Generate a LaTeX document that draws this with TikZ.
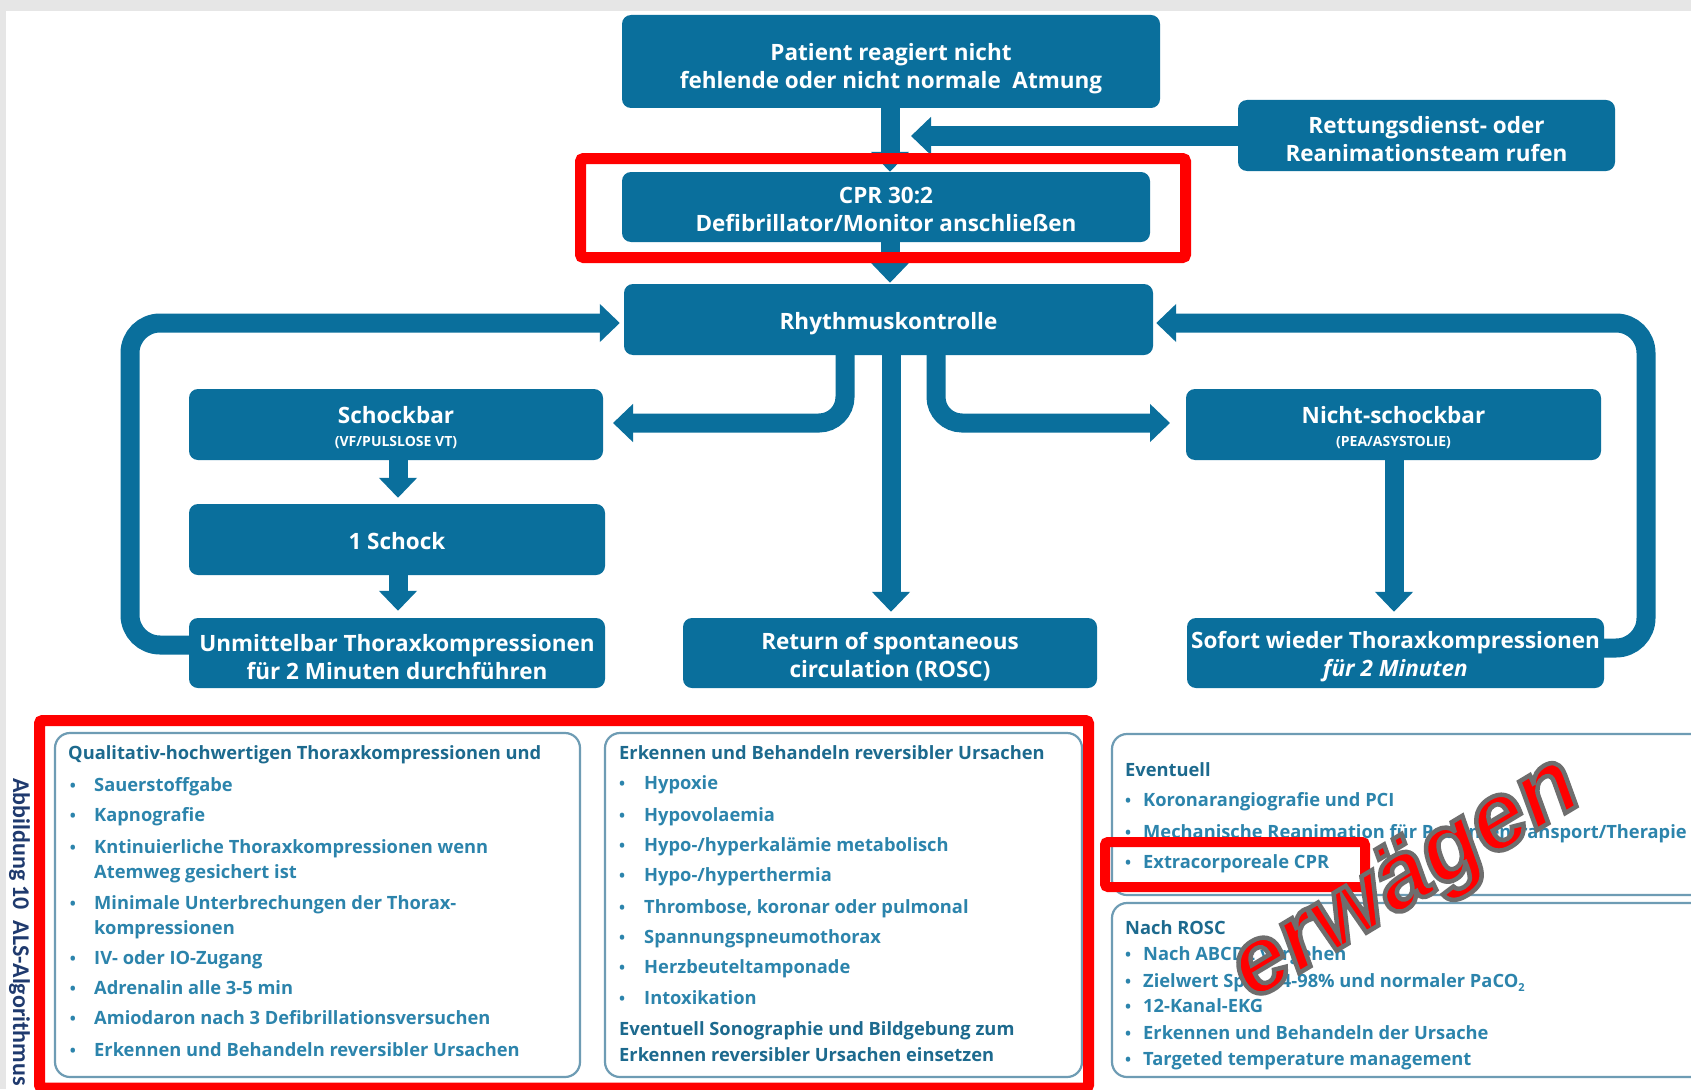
\documentclass[tikz,border=0pt]{standalone}
\usepackage{fontspec}
\setmainfont{Open Sans}
\newfontfamily\erwfont{Liberation Sans}
\newfontfamily\capfont{Carlito}
\usetikzlibrary{arrows.meta}
\definecolor{boxblue}{HTML}{0A6F9C}
\definecolor{headblue}{HTML}{1D6A8E}
\definecolor{itemblue}{HTML}{2C84AC}
\definecolor{framecol}{HTML}{6E9CB4}
\definecolor{bggrey}{HTML}{E6E6E6}
\definecolor{capblue}{HTML}{1F3A6E}
\definecolor{markred}{HTML}{FF0000}
\newcommand{\mysub}[1]{\raisebox{-0.45ex}{\fontsize{11}{11}\selectfont #1}}
\newcommand{\outlinedtext}[1]{\special{pdf:code q 2 Tr 4.5 w 0.43 0.43 0.43 RG}#1\special{pdf:code Q}}
\tikzset{
  flowbox/.style={fill=boxblue, rounded corners=9pt, inner sep=0pt},
  flowtext/.style={text=white, align=center, inner sep=0pt, font=\fontsize{22.5}{28}\selectfont\bfseries},
  arr/.style={draw=boxblue, line width=19pt, -{Triangle[width=37pt,length=20pt]}},
  loopline/.style={arr, rounded corners=30pt},
  branch/.style={arr, rounded corners=26pt},
  redmark/.style={draw=markred, line width=11pt, rounded corners=3pt},
  infobox/.style={draw=framecol, line width=2.2pt, rounded corners=15pt},
  headtxt/.style={anchor=base west, inner sep=0pt, text=headblue, font=\fontsize{18.3}{22}\selectfont\bfseries},
  itemtxt/.style={anchor=base west, inner sep=0pt, text=itemblue, font=\fontsize{18.3}{22}\selectfont\bfseries},
  bul/.style={anchor=base, inner sep=0pt, text=itemblue, font=\fontsize{16}{22}\selectfont\bfseries},
  erw/.style={anchor=base, inner sep=0pt, rotate=31, text=markred, font=\fontsize{96}{96}\selectfont\erwfont\bfseries\itshape}
}
\begin{document}
\begin{tikzpicture}[x=1pt,y=-1pt]
\useasboundingbox (0,0) rectangle (1691,1089);
\clip (0,0) rectangle (1691,1089);
\fill[white] (0,0) rectangle (1691,1089);
\fill[bggrey] (0,0) rectangle (1691,11);
\fill[bggrey] (0,0) rectangle (6,1089);

% flow boxes
\node[flowbox, minimum width=538pt, minimum height=93pt] (p) at (891,61.5) {};
\node[flowbox, minimum width=377pt, minimum height=71pt] (r) at (1426.5,135.5) {};
\node[flowbox, minimum width=528pt, minimum height=70pt] (c) at (886,207) {};
\node[flowbox, minimum width=529pt, minimum height=71pt] (rh) at (888.5,319.5) {};
\node[flowbox, minimum width=414pt, minimum height=71pt] (s) at (396,424.5) {};
\node[flowbox, minimum width=416pt, minimum height=71pt] (s1) at (397,539.5) {};
\node[flowbox, minimum width=416pt, minimum height=70pt] (u) at (397,653) {};
\node[flowbox, minimum width=414pt, minimum height=70pt] (ro) at (890,653) {};
\node[flowbox, minimum width=415pt, minimum height=71pt] (n) at (1393.5,424.5) {};
\node[flowbox, minimum width=417pt, minimum height=70pt] (so) at (1395.5,653) {};

\node[flowtext] (pt) at ([yshift=-7pt]p.center) {Patient reagiert nicht\\fehlende oder nicht normale\ \ Atmung};
\node[flowtext] (rt) at ([yshift=-4pt]r.center) {Rettungsdienst- oder\\Reanimationsteam rufen};
\node[flowtext] (ct) at ([yshift=-2pt]c.center) {CPR 30:2\\Defibrillator/Monitor anschließen};
\node[flowtext] (rht) at ([yshift=-4pt]rh.center) {Rhythmuskontrolle};
\node[flowtext] (st) at ([yshift=-3pt]s.center) {Schockbar\\[-5pt]{\fontsize{14}{16}\selectfont (VF/PULSLOSE VT)}};
\node[flowtext] (s1t) at ([yshift=-2pt]s1.center) {1 Schock};
\node[flowtext] (ut) at ([yshift=-4pt]u.center) {Unmittelbar Thoraxkompressionen\\für 2 Minuten durchführen};
\node[flowtext] (rot) at ([yshift=-4pt]ro.center) {Return of spontaneous\\circulation (ROSC)};
\node[flowtext] (nt) at ([yshift=-3pt]n.center) {Nicht-schockbar\\[-5pt]{\fontsize{14}{16}\selectfont (PEA/ASYSTOLIE)}};
\node[flowtext] (sot) at ([yshift=-4pt]so.center) {Sofort wieder Thoraxkompressionen\\\itshape für 2 Minuten};

% connectors
\coordinate (rtip) at (911,136);
\coordinate (ltip) at (613,423);
\coordinate (ntip) at (1170,423);
\draw[arr] (p.south -| 890,0) -- (c.north -| 890,0);
\draw[arr] (r.west |- rtip) -- (rtip);
\draw[arr] (c.south -| 890,0) -- ([yshift=1pt]rh.north -| 890,0);
\draw[branch] (rh.south -| 845,0) -- (845,423) -- (ltip);
\draw[arr] (rh.south -| 891,0) -- ([yshift=6pt]ro.north -| 891,0);
\draw[branch] (rh.south -| 936,0) -- (936,423) -- (ntip);
\draw[arr] (s.south -| 398,0) -- ([yshift=6pt]s1.north -| 398,0);
\draw[arr] (s1.south -| 398,0) -- ([yshift=7pt]u.north -| 398,0);
\draw[arr] (n.south -| 1394,0) -- ([yshift=6pt]so.north -| 1394,0);
\draw[loopline] (u.west |- 0,645) -- (130,645) -- (130,323) -- ([xshift=-4pt]rh.west |- 0,323);
\draw[loopline] (so.east |- 0,648) -- (1646,648) -- (1646,323) -- ([xshift=3pt]rh.east |- 0,323);

% red mark around CPR
\draw[redmark] (580.5,158.5) rectangle (1185.5,257.5);

% info boxes
\draw[infobox] (55,733) rectangle (580,1077);
\draw[infobox] (605,733) rectangle (1082,1077);
\draw[infobox] (1112,734) rectangle (1730,895);
\draw[infobox] (1112,903) rectangle (1730,1077);

% left box
\node[headtxt] (lh) at (68,759) {Qualitativ-hochwertigen Thoraxkompressionen und};
\foreach \y [count=\i] in {791,821,853,909,964,994,1024,1056}
  \node[bul] (lb\i) at (73,\y) {•};
\node[itemtxt] (l1) at (94,791) {Sauerstoffgabe};
\node[itemtxt] (l2) at (94,821) {Kapnografie};
\node[itemtxt] (l3) at (94,853) {Kntinuierliche Thoraxkompressionen wenn};
\node[itemtxt] (l4) at (94,878) {Atemweg gesichert ist};
\node[itemtxt] (l5) at (94,909) {Minimale Unterbrechungen der Thorax-};
\node[itemtxt] (l6) at (94,934) {kompressionen};
\node[itemtxt] (l7) at (94,964) {IV- oder IO-Zugang};
\node[itemtxt] (l8) at (94,994) {Adrenalin alle 3-5 min};
\node[itemtxt] (l9) at (94,1024) {Amiodaron nach 3 Defibrillationsversuchen};
\node[itemtxt] (l10) at (94,1056) {Erkennen und Behandeln reversibler Ursachen};

% middle box
\node[headtxt] (mh) at (619,759) {Erkennen und Behandeln reversibler Ursachen};
\foreach \y/\t [count=\i] in {789/{Hypoxie},821/{Hypovolaemia},851/{Hypo-/hyperkalämie metabolisch},881/{Hypo-/hyperthermia},913/{Thrombose, koronar oder pulmonal},943/{Spannungspneumothorax},973/{Herzbeuteltamponade},1004/{Intoxikation}}{
  \node[bul] (mb\i) at (622,\y) {•};
  \node[itemtxt] (m\i) at (644,\y) {\t};
}
\node[headtxt] (mh2) at (619,1035) {Eventuell Sonographie und Bildgebung zum};
\node[headtxt] (mh3) at (619,1061) {Erkennen reversibler Ursachen einsetzen};

% right boxes
\node[headtxt] (eh) at (1125,776) {Eventuell};
\foreach \y [count=\i] in {806,838,868,960,987,1012,1039,1065}
  \node[bul] (rb\i) at (1128,\y) {•};
\node[itemtxt] (e1) at (1143,806) {Koronarangiografie und PCI};
\node[itemtxt] (e2) at (1143,838) {Mechanische Reanimation für Patiententransport/Therapie};
\node[itemtxt] (e3) at (1143,868) {Extracorporeale CPR};
\node[headtxt] (nh) at (1125,934) {Nach ROSC};
\node[itemtxt] (n1) at (1143,960) {Nach ABCDE vorgehen};
\node[itemtxt] (n2) at (1143,987) {Zielwert SpO\mysub{2} 94-98\% und normaler PaCO\mysub{2}};
\node[itemtxt] (n3) at (1143,1012) {12-Kanal-EKG};
\node[itemtxt] (n4) at (1143,1039) {Erkennen und Behandeln der Ursache};
\node[itemtxt] (n5) at (1143,1065) {Targeted temperature management};

% red marks
\draw[redmark] (39.5,720.5) rectangle (1088.5,1088);
\draw[redmark, line width=10pt] (1105,842) rectangle (1365,887);

% erwaegen
\node[erw] (erw) at (1419,901) {\outlinedtext{erwägen}};

% side caption
\node[anchor=base west, rotate=-90, inner sep=0pt, text=capblue, font=\fontsize{24}{24}\selectfont\capfont\bfseries] (cap) at (13,778) {Abbildung 10\ \ ALS-Algorithmus};
\end{tikzpicture}
\end{document}
